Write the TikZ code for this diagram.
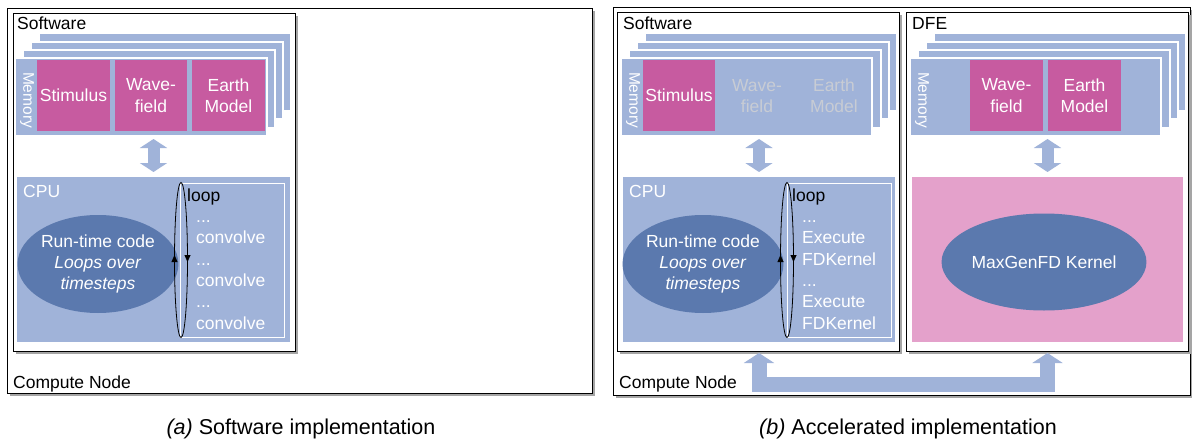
\documentclass[tikz,border=0pt]{standalone}
\usepackage{fontspec}
\setmainfont{Liberation Sans}
\usetikzlibrary{arrows.meta,shapes.geometric,calc,shadows}
\definecolor{memblue}{RGB}{160,179,217}
\definecolor{pinkbox}{RGB}{199,91,160}
\definecolor{ellblue}{RGB}{91,121,174}
\definecolor{dfepink}{RGB}{228,161,203}
\definecolor{greytxt}{RGB}{200,204,212}
\definecolor{shadowgrey}{RGB}{165,165,165}
\newcommand\fs{\fontsize{17.5}{21.3}\selectfont}
\begin{document}
\begin{tikzpicture}[x=1pt,y=-1pt,
  frame/.style={draw=black, line width=0.9pt, fill=white, anchor=north west,
    inner sep=0pt, outer sep=0pt,
    drop shadow={shadow xshift=3pt, shadow yshift=-3pt, fill=shadowgrey, opacity=1}},
  memback/.style={fill=memblue, draw=white, line width=1.2pt},
  memfront/.style={fill=memblue, draw=white, line width=1.2pt, anchor=north west,
    inner sep=0pt, outer sep=0pt, minimum width=252, minimum height=78},
  pbox/.style={fill=pinkbox, anchor=north west, inner sep=0pt, outer sep=0pt,
    minimum height=71, text=white, font=\fs, align=center},
  gtext/.style={text=greytxt, font=\fs, align=center, inner sep=0pt},
  memlabel/.style={rotate=-90, text=white, font=\fontsize{15.5}{18}\selectfont, inner sep=0pt},
  cpubox/.style={fill=memblue, anchor=north west, inner sep=0pt, outer sep=0pt,
    minimum width=273, minimum height=165},
  loopbox/.style={draw=white, line width=0.9pt, anchor=north west, inner sep=0pt,
    outer sep=0pt, minimum width=104, minimum height=154},
  loopell/.style={ellipse, draw=black, line width=0.8pt, minimum width=13, minimum height=155,
    inner sep=0pt, outer sep=0pt},
  looparrow/.style={-{Triangle[length=7pt,width=6pt]}, line width=0.8pt},
  bigell/.style={ellipse, fill=ellblue, text=white, font=\fs, align=center, inner sep=0pt},
  lbl/.style={anchor=base west, inner sep=0pt, font=\fs},
  wlbl/.style={lbl, text=white},
  dblarrow/.style={draw=memblue, line width=12pt,
    {Triangle[length=9pt,width=27pt]}-{Triangle[length=9pt,width=27pt]}},
  busarrow/.style={draw=memblue, line width=15pt, line join=miter,
    {Triangle[length=10pt,width=30pt]}-{Triangle[length=10pt,width=30pt]}},
  caption/.style={anchor=base, inner sep=0pt, font=\fontsize{21.5}{25}\selectfont},
]
\useasboundingbox (0,0) rectangle (1192,439);
\fill[white] (0,0) rectangle (1192,439);

% ================= Panel (a) =================
\node[frame, minimum width=585, minimum height=385] (nodeA) at (7,8) {};
\node[frame, minimum width=282, minimum height=338] (swA) at (13,13) {};
\node[lbl] (swAl) at (17,30) {Software};
\node[lbl] (cnAl) at (13,388) {Compute Node};

\path[memback] (39,33) rectangle (291,111);
\path[memback] (31,42) rectangle (283,119);
\path[memback] (23,50) rectangle (275,128);
\node[memfront] (memA) at (15,58) {};
\node[memlabel] (memAl) at (27,100) {Memory};
\node[pbox, minimum width=73] (stimA) at (37,60) {Stimulus};
\node[pbox, minimum width=72] (waveA) at (115,60) {Wave-\\field};
\node[pbox, minimum width=73] (earthA) at (192,60) {Earth\\Model};

\node[cpubox] (cpuA) at (17,177) {};
\node[wlbl] (cpuAl) at (23,197) {CPU};
\node[loopbox] (lbA) at (180,183) {};
\node[bigell, minimum width=150, minimum height=98] (rtA) at (98,264)
  {Run-time code\\\textit{Loops over}\\\textit{timesteps}};
\node[loopell] (leA) at (181,260) {};
\draw[looparrow] ([yshift=-3pt]leA.west) -- ([yshift=5pt]leA.west);
\draw[looparrow] ([yshift=6pt]leA.east) -- ([yshift=-2pt]leA.east);
\node[wlbl, align=left] (ltA) at (187,329)
  {{\color{black}loop}\\\hspace*{9pt}...\\\hspace*{9pt}convolve\\\hspace*{9pt}...\\\hspace*{9pt}convolve\\\hspace*{9pt}...\\\hspace*{9pt}convolve};

\draw[dblarrow] ($(memA.south -| cpuA.north)+(0,3)$) -- ($(cpuA.north)+(0,-5)$);

\node[caption] (capA) at (301,434) {\textit{(a)} Software implementation};

% ================= Panel (b) =================
\node[frame, minimum width=577, minimum height=388] (nodeB) at (613,7) {};
\node[frame, minimum width=282, minimum height=339] (swB) at (617,12) {};
\node[frame, minimum width=282, minimum height=339] (dfe) at (906,12) {};
\node[lbl] (swBl) at (623,30) {Software};
\node[lbl] (dfel) at (912,30) {DFE};
\node[lbl] (cnBl) at (619,388) {Compute Node};

\path[memback] (645,33) rectangle (897,111);
\path[memback] (637,42) rectangle (889,119);
\path[memback] (629,50) rectangle (881,128);
\node[memfront, minimum width=251] (memB) at (621,58) {};
\node[memlabel] (memBl) at (633,100) {Memory};
\node[pbox, minimum width=72] (stimB) at (643,60) {Stimulus};
\node[gtext] (waveB) at (757,96) {Wave-\\field};
\node[gtext] (earthB) at (834,96) {Earth\\Model};

\node[cpubox, minimum width=272] (cpuB) at (623,177) {};
\node[wlbl] (cpuBl) at (629,197) {CPU};
\node[loopbox] (lbB) at (787,183) {};
\node[bigell, minimum width=150, minimum height=98] (rtB) at (703,264)
  {Run-time code\\\textit{Loops over}\\\textit{timesteps}};
\node[loopell] (leB) at (787,260) {};
\draw[looparrow] ([yshift=-3pt]leB.west) -- ([yshift=5pt]leB.west);
\draw[looparrow] ([yshift=6pt]leB.east) -- ([yshift=-2pt]leB.east);
\node[wlbl, align=left] (ltB) at (792,329)
  {{\color{black}loop}\\\hspace*{10pt}...\\\hspace*{10pt}Execute\\\hspace*{10pt}FDKernel\\\hspace*{10pt}...\\\hspace*{10pt}Execute\\\hspace*{10pt}FDKernel};

\draw[dblarrow] ($(memB.south -| cpuB.north)+(0,3)$) -- ($(cpuB.north)+(0,-5)$);

\path[memback] (934,33) rectangle (1186,111);
\path[memback] (926,42) rectangle (1178,119);
\path[memback] (918,50) rectangle (1170,128);
\node[memfront, minimum width=251] (memD) at (910,58) {};
\node[memlabel] (memDl) at (922,100) {Memory};
\node[pbox, minimum width=73] (waveD) at (970,60) {Wave-\\field};
\node[pbox, minimum width=73] (earthD) at (1048,60) {Earth\\Model};

\node[fill=dfepink, anchor=north west, inner sep=0pt, outer sep=0pt,
  minimum width=271, minimum height=165] (dfeK) at (912,177) {};
\node[bigell, minimum width=165, minimum height=97] (kern) at (1044,262) {MaxGenFD Kernel};

\draw[dblarrow] ($(memD.south -| dfeK.north)+(0,3)$) -- ($(dfeK.north)+(0,-5)$);

\coordinate (busL) at ($(cpuB.south)+(0,11)$);
\coordinate (busR) at ($(dfeK.south)+(0,11)$);
\draw[busarrow] (busL) -- ($(busL)+(0,31)$) -- ($(busR)+(0,31)$) -- (busR);

\node[caption] (capB) at (908,434) {\textit{(b)} Accelerated implementation};
\end{tikzpicture}
\end{document}
